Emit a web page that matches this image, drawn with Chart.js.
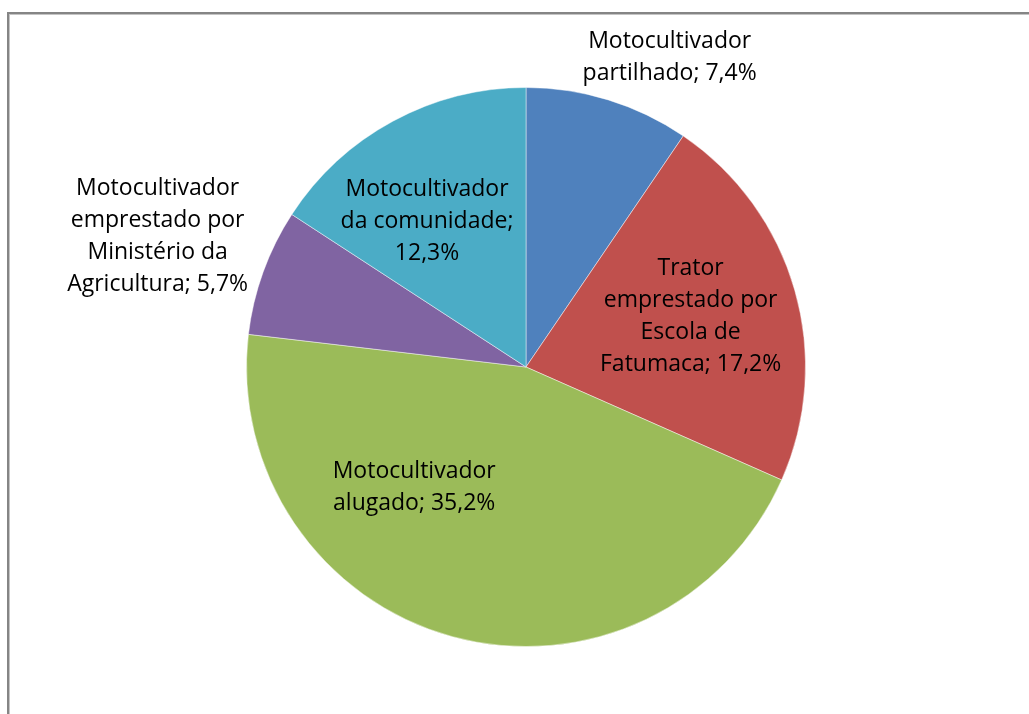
<!DOCTYPE html>
<html>
<head>
<meta charset="utf-8">
<script src="https://cdn.jsdelivr.net/npm/chart.js@4/dist/chart.umd.min.js"></script>
<style>
  body { margin: 0; background: #fff; overflow: hidden; }
  #wrap { position: relative; width: 1029px; height: 714px; }
  #frame {
    position: absolute; left: 7px; top: 12px; width: 1100px; height: 800px;
    border-top: 2px solid #858585; border-left: 2px solid #858585;
    box-shadow: inset 1px 1px 0 #c4c4c4;
  }
  canvas { position: absolute; left: 0; top: 0; }
</style>
</head>
<body>
<div id="wrap">
  <div id="frame"></div>
  <canvas id="chart" width="1029" height="714"></canvas>
</div>
<script>
// ==================================================
// DATA
// ==================================================
const categories = [
  "Motocultivador partilhado",
  "Trator emprestado por Escola de Fatumaca",
  "Motocultivador alugado",
  "Motocultivador emprestado por Ministério da Agricultura",
  "Motocultivador da comunidade",
];
const values = [7.4, 17.2, 35.2, 5.7, 12.3];
const colors = ["#4f81bd", "#c0504d", "#9bbb59", "#8064a2", "#4bacc6"];

// how each label wraps, {v} is where the value goes
const labelLines = [
  ["Motocultivador", "partilhado; {v}"],
  ["Trator", "emprestado por", "Escola de", "Fatumaca; {v}"],
  ["Motocultivador", "alugado; {v}"],
  ["Motocultivador", "emprestado por", "Ministério da", "Agricultura; {v}"],
  ["Motocultivador", "da comunidade;", "{v}"],
];
// label centre relative to pie centre, in units of the radius
const labelOffset = [
  [0.514, -1.107],
  [0.589, -0.182],
  [-0.40, 0.432],
  [-1.318, -0.468],
  [-0.354, -0.521],
];

const fmt = (v) => v.toFixed(1).replace(".", ",") + "%";

// ==================================================
// LABEL PLUGIN
// ==================================================
const pieLabels = {
  id: "pieLabels",
  afterDatasetsDraw(chart) {
    const ctx = chart.ctx;
    const meta = chart.getDatasetMeta(0);
    const lineH = 32;
    ctx.save();
    ctx.font = "23px 'Open Sans'";
    ctx.fillStyle = "#000";
    ctx.textAlign = "center";
    ctx.textBaseline = "middle";
    meta.data.forEach((arc, i) => {
      const { x, y, outerRadius } = arc.getProps(["x", "y", "outerRadius"], true);
      const cx = x + labelOffset[i][0] * outerRadius;
      const cy = y + labelOffset[i][1] * outerRadius;
      const lines = labelLines[i].map((l) => l.replace("{v}", fmt(values[i])));
      const top = cy - ((lines.length - 1) * lineH) / 2;
      lines.forEach((l, k) => ctx.fillText(l, cx, top + k * lineH));
    });
    ctx.restore();
  },
};

// ==================================================
// CHART
// ==================================================
const ctx = document.getElementById("chart").getContext("2d");
const myChart = new Chart(ctx, {
  type: "pie",
  data: {
    labels: categories,
    datasets: [
      {
        data: values,
        backgroundColor: colors,
        borderColor: "rgba(255,255,255,0.45)",
        borderWidth: 1,
      },
    ],
  },
  options: {
    responsive: false,
    animation: false,
    layout: { padding: { top: 87, bottom: 67, left: 246, right: 223 } },
    plugins: {
      legend: { display: false },
      tooltip: { enabled: false },
    },
  },
  plugins: [pieLabels],
});
</script>
</body>
</html>
